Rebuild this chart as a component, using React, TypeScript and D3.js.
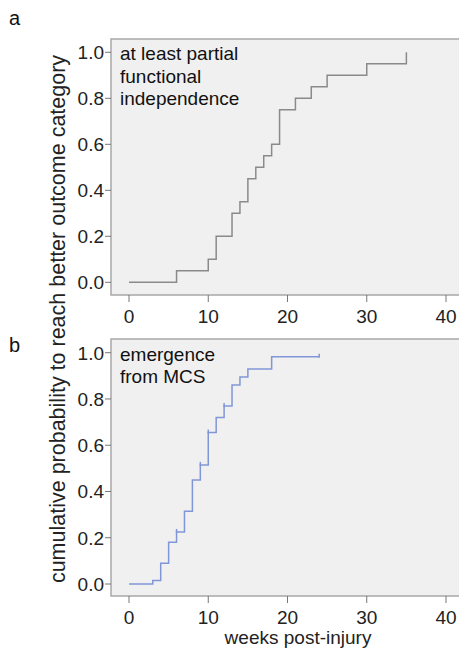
import React from "react";
import * as d3 from "d3";

const weeksA = [0, 6, 10, 11, 13, 14, 15, 16, 17, 18, 19, 21, 23, 25, 30, 35];
const probA = [0, 0.05, 0.1, 0.2, 0.3, 0.35, 0.45, 0.5, 0.55, 0.6, 0.75, 0.8, 0.85, 0.9, 0.95, 1.0];
const censorA: number[] = [];

const weeksB = [0, 3, 4, 5, 6, 7, 8, 9, 10, 11, 12, 13, 14, 15, 18, 24];
const probB = [0, 0.015, 0.09, 0.18, 0.225, 0.315, 0.45, 0.515, 0.655, 0.72, 0.77, 0.86, 0.895, 0.93, 0.983, 0.983];
const censorB = [6, 9, 10, 12, 24];

const xTicks = [0, 10, 20, 30, 40];
const yTicks = [0, 0.2, 0.4, 0.6, 0.8, 1.0];

const labelA = ["at least partial", "functional", "independence"];
const labelB = ["emergence", "from MCS"];

const FONT = "'Liberation Sans', Arial, sans-serif";

type PanelProps = {
  top: number;
  bottom: number;
  y1: number;
  y0: number;
  weeks: number[];
  probs: number[];
  censor: number[];
  color: string;
  label: string[];
  letter: string;
  letterY: number;
};

function Panel(p: PanelProps) {
  const x = d3.scaleLinear().domain([0, 40]).range([129, 446]);
  const y = d3.scaleLinear().domain([0, 1]).range([p.y0, p.y1]);
  const pts: [number, number][] = p.weeks.map((w, i) => [w, p.probs[i]]);
  const line = d3
    .line<[number, number]>()
    .x((d) => x(d[0]))
    .y((d) => y(d[1]))
    .curve(d3.curveStepAfter);
  const stepVal = (t: number) => {
    let v = 0;
    p.weeks.forEach((w, i) => {
      if (w <= t) v = p.probs[i];
    });
    return v;
  };
  const left = 111;
  return (
    <g>
      <text x={9} y={p.letterY} fontSize={20} fontFamily={FONT} fill="#111">
        {p.letter}
      </text>
      <rect x={left} y={p.top} width={460 - left} height={p.bottom - p.top} fill="#f0f0f0" stroke="#a8a8a8" strokeWidth={1.5} />
      {yTicks.map((t) => (
        <g key={"y" + t}>
          <line x1={left - 6} x2={left} y1={y(t)} y2={y(t)} stroke="#777" strokeWidth={1} />
          <text x={left - 7} y={y(t)} dy="0.36em" textAnchor="end" fontSize={19} fontFamily={FONT} fill="#222">
            {d3.format(".1f")(t)}
          </text>
        </g>
      ))}
      {xTicks.map((t) => (
        <g key={"x" + t}>
          <line x1={x(t)} x2={x(t)} y1={p.bottom} y2={p.bottom + 7} stroke="#777" strokeWidth={1} />
          <text x={x(t)} y={p.bottom + 28} textAnchor="middle" fontSize={19} fontFamily={FONT} fill="#222">
            {t}
          </text>
        </g>
      ))}
      <path d={line(pts) || ""} fill="none" stroke={p.color} strokeWidth={1.5} />
      {p.censor.map((c) => (
        <line key={"c" + c} x1={x(c)} x2={x(c)} y1={y(stepVal(c)) - 3} y2={y(stepVal(c)) + 1} stroke={p.color} strokeWidth={1.5} />
      ))}
      {p.label.map((s, i) => (
        <text key={s} x={120} y={p.y1 + 8 + i * 22.5} fontSize={19} fontFamily={FONT} fill="#111">
          {s}
        </text>
      ))}
    </g>
  );
}

export default function App() {
  return (
    <svg width={459} height={648} style={{ position: "absolute", left: 0, top: 0, background: "#fff" }}>
      <Panel top={39} bottom={295} y1={52.3} y0={282.3} weeks={weeksA} probs={probA} censor={censorA} color="#8a8a8a" label={labelA} letter="a" letterY={25} />
      <Panel top={339} bottom={596} y1={352.7} y0={584} weeks={weeksB} probs={probB} censor={censorB} color="#8196d6" label={labelB} letter="b" letterY={352} />
      <text transform="translate(65,319) rotate(-90)" textAnchor="middle" fontSize={21.5} fontFamily={FONT} fill="#222">
        cumulative probability to reach better outcome category
      </text>
      <text x={298} y={644} textAnchor="middle" fontSize={19} fontFamily={FONT} fill="#222">
        weeks post-injury
      </text>
    </svg>
  );
}
